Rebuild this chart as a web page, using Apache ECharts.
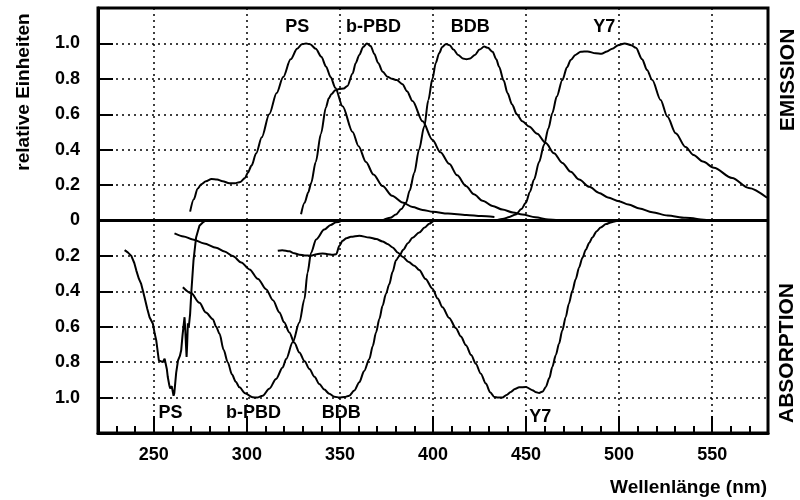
<!DOCTYPE html>
<html>
<head>
<meta charset="utf-8">
<script src="https://cdn.jsdelivr.net/npm/echarts@6/dist/echarts.min.js"></script>
<style>
  html, body { margin: 0; padding: 0; background: #fff; }
  #chart { width: 800px; height: 500px; }
</style>
</head>
<body>
<div id="chart"></div>
<script>
// Wavelength (nm) / relative intensity pairs, emission spectra
const emissionPS = [[269.5,0.05],[271.5,0.12],[273.5,0.18],[275.5,0.205],[278,0.222],[281,0.235],[284,0.232],[287,0.222],[290.6,0.21],[293.5,0.21],[296.5,0.218],[299,0.24],[300.5,0.27],[302.5,0.31],[305,0.38],[308,0.47],[312,0.6],[316,0.72],[319.5,0.81],[323.5,0.91],[327,0.97],[329.5,0.995],[331.8,1.0],[334,0.995],[337,0.97],[340,0.925],[342.5,0.87],[345,0.81],[347.5,0.75],[351.4,0.645],[356.8,0.5],[360,0.42],[364,0.33],[368,0.26],[372.9,0.195],[378,0.14],[383.6,0.102],[389,0.076],[394.4,0.06],[400,0.049],[408,0.039],[418,0.031],[426,0.025],[433,0.02]];
const emissionBPBD = [[329.1,0.035],[331,0.1],[333,0.16],[334.5,0.21],[337,0.33],[339.8,0.49],[342.5,0.64],[344,0.69],[345.5,0.715],[347.5,0.735],[349.5,0.742],[352,0.745],[354,0.76],[356.8,0.83],[358.5,0.89],[360.4,0.935],[362.5,0.98],[364.5,1.0],[366.5,0.985],[368.5,0.94],[370.5,0.89],[373,0.84],[375.5,0.812],[378,0.8],[380.5,0.793],[383.6,0.77],[386,0.73],[389,0.675],[394.4,0.56],[399.7,0.456],[404,0.385],[408.7,0.32],[413,0.255],[417.7,0.195],[422,0.148],[426.6,0.112],[432,0.082],[437.3,0.062],[443,0.045],[448,0.034],[455,0.018],[462,0.006],[468,0]];
const emissionBDB = [[372.9,0],[377,0.015],[380.1,0.034],[383,0.065],[385.5,0.1],[387.5,0.17],[389.9,0.268],[392.5,0.4],[395.3,0.531],[397.5,0.68],[399.7,0.8],[401.5,0.89],[403.3,0.945],[405,0.98],[407,0.997],[409,0.99],[411,0.965],[413.5,0.935],[416,0.915],[418,0.91],[420,0.915],[422.5,0.935],[425,0.965],[427.5,0.982],[429.5,0.975],[432,0.953],[434,0.91],[435.5,0.868],[438,0.79],[440,0.72],[442.5,0.655],[445,0.6],[448,0.56],[451.6,0.531],[456,0.49],[460.6,0.437],[465,0.38],[469.5,0.325],[474,0.275],[478.5,0.231],[484,0.19],[489.2,0.156],[494,0.13],[499.9,0.109],[505,0.09],[511,0.068],[517.8,0.047],[526,0.028],[535.7,0.015],[548,0.003],[555,0]];
const emissionY7 = [[433.8,0],[438,0.01],[441,0.02],[444.5,0.034],[447.5,0.065],[449.9,0.1],[452,0.16],[454.3,0.231],[457,0.33],[459.7,0.428],[462,0.52],[464.1,0.606],[466.5,0.7],[469.5,0.793],[472,0.865],[474,0.906],[476.5,0.935],[479.4,0.953],[483,0.955],[487.4,0.944],[490.5,0.942],[493.5,0.955],[496.3,0.97],[499.5,0.99],[503,1.0],[506.5,0.99],[509,0.975],[512.4,0.91],[515,0.85],[517.8,0.793],[522.3,0.681],[525.9,0.587],[530.4,0.493],[535.7,0.415],[540,0.37],[545,0.333],[550.9,0.298],[560.7,0.24],[569.7,0.184],[579.5,0.128]];

// Wavelength (nm) / relative absorbance pairs, drawn downward from the zero line
const absorptionPS = [[234.3,0.167],[236,0.18],[237.9,0.2],[239.5,0.24],[240.6,0.283],[242,0.33],[243.2,0.358],[244.2,0.4],[245,0.433],[246.5,0.5],[247.7,0.546],[249.5,0.583],[250.5,0.64],[251.3,0.677],[252.2,0.75],[252.7,0.79],[253.5,0.8],[254.8,0.8],[255.8,0.78],[256.3,0.771],[257,0.84],[257.5,0.884],[258.3,0.93],[258.8,0.949],[259.6,0.935],[260.2,0.94],[260.6,0.99],[261,0.975],[262,0.86],[263,0.79],[264,0.765],[264.7,0.733],[265.4,0.65],[265.9,0.602],[266.5,0.546],[266.9,0.62],[267.3,0.71],[267.6,0.77],[267.9,0.7],[268.3,0.58],[268.8,0.6],[269.5,0.527],[270.2,0.396],[271.3,0.227],[272.7,0.096],[274.5,0.03],[276.3,0.011],[278,0]];
const absorptionBPBD = [[265.6,0.377],[270,0.41],[274.5,0.465],[278,0.52],[281.7,0.557],[283.5,0.6],[285.3,0.64],[287.5,0.73],[289.7,0.8],[292,0.87],[294,0.91],[296,0.942],[299,0.975],[303.1,0.998],[305.5,1.0],[308.5,0.989],[312,0.95],[315.7,0.895],[319.2,0.83],[321.1,0.782],[324.6,0.688],[328.2,0.576],[330.9,0.445],[332.6,0.294],[334.5,0.182],[337.2,0.107],[341.6,0.051],[345,0.025],[347.9,0.01],[351.3,0]];
const absorptionBDB = [[261.1,0.073],[266,0.09],[270.9,0.107],[277,0.13],[283.5,0.154],[288,0.175],[292.4,0.201],[297,0.237],[301.4,0.276],[306,0.33],[310.3,0.388],[314,0.45],[317.5,0.519],[320,0.575],[322.8,0.632],[325.5,0.69],[328.2,0.745],[331,0.795],[333.6,0.838],[336.3,0.882],[338.9,0.923],[341.6,0.955],[344.3,0.979],[347,0.995],[349.7,1.0],[352.5,0.997],[355,0.989],[357.7,0.96],[360.4,0.913],[363,0.85],[365.8,0.782],[367.6,0.71],[369.4,0.632],[371.2,0.555],[372.9,0.482],[374.7,0.415],[376.5,0.36],[378.3,0.29],[380.1,0.225],[381.9,0.2],[384,0.165],[386.5,0.128],[389,0.098],[392.6,0.068],[395.5,0.04],[398,0.018],[400.5,0.003],[402,0]];
const absorptionY7 = [[316.6,0.171],[319,0.168],[322.8,0.174],[325.5,0.185],[328.2,0.193],[331,0.197],[334.5,0.199],[337.5,0.19],[340.7,0.186],[343.5,0.19],[346.1,0.193],[348,0.19],[349.7,0.143],[351.4,0.114],[353.5,0.1],[355.9,0.092],[360.4,0.086],[365.8,0.096],[369.5,0.105],[372.9,0.118],[375.5,0.132],[378.3,0.152],[381,0.18],[383.6,0.204],[387,0.235],[390,0.255],[392.6,0.28],[396,0.33],[399.7,0.385],[402.5,0.44],[405.1,0.49],[408.7,0.55],[412.3,0.608],[415,0.655],[417.7,0.705],[420.5,0.76],[423,0.809],[425.7,0.865],[428.4,0.921],[430.7,0.97],[432.9,0.996],[435,1.0],[437.3,1.0],[439.5,0.985],[441.8,0.968],[444,0.952],[446.3,0.942],[449.9,0.94],[453.4,0.958],[455.5,0.97],[457,0.974],[459,0.965],[460.6,0.94],[462.5,0.89],[464.1,0.827],[466,0.76],[467.7,0.696],[469.5,0.62],[471.3,0.546],[473,0.47],[474.9,0.396],[476.7,0.33],[478.5,0.265],[480.3,0.21],[482.1,0.165],[484,0.125],[485.6,0.096],[488,0.06],[490.1,0.039],[493,0.02],[495.5,0.011],[498,0.004],[500,0]];

// Tick values of the wavelength axis
const xMajorTicks = [250, 300, 350, 400, 450, 500, 550];

// Substance names placed next to their curves: [wavelength, value, name]
const curveNames = [
  [327, 1.092, 'PS'], [368, 1.092, 'b-PBD'], [420, 1.092, 'BDB'], [492, 1.092, 'Y7'],
  [259, -1.086, 'PS'], [303.6, -1.086, 'b-PBD'], [350.7, -1.086, 'BDB'], [457.6, -1.109, 'Y7']
];

const FONT = '"Liberation Sans", Arial, Helvetica, sans-serif';
const down = arr => arr.map(([x, a]) => [x, -a]);

function curve(data, smooth) {
  return {
    type: 'line',
    data: data,
    showSymbol: false,
    smooth: smooth,
    smoothMonotone: 'x',
    lineStyle: { color: '#000', width: 2 },
    silent: true
  };
}

const series = [
  curve(emissionPS, 0.3),
  curve(emissionBPBD, 0.3),
  curve(emissionBDB, 0.3),
  curve(emissionY7, 0.3),
  curve(down(absorptionPS), false),
  curve(down(absorptionBPBD), 0.3),
  curve(down(absorptionBDB), 0.3),
  curve(down(absorptionY7), 0.3),
  {
    type: 'scatter',
    data: curveNames,
    symbolSize: 0,
    itemStyle: { color: '#000', opacity: 1 },
    silent: true,
    label: {
      show: true,
      position: 'inside',
      formatter: p => p.data[2],
      color: '#000',
      opacity: 1,
      fontSize: 18,
      fontWeight: 'bold',
      fontFamily: FONT
    }
  }
];

// thick zero line separating emission and absorption
series[0].markLine = {
  silent: true,
  symbol: 'none',
  label: { show: false },
  lineStyle: { color: '#000', width: 3, type: 'solid' },
  data: [{ yAxis: 0 }]
};

const chart = echarts.init(document.getElementById('chart'), null, { renderer: 'canvas' });
chart.setOption({
  animation: false,
  backgroundColor: '#fff',
  grid: {
    left: 98, top: 8, width: 670, height: 425,
    show: true, borderColor: '#000', borderWidth: 3, backgroundColor: 'transparent'
  },
  xAxis: [
    {
      type: 'value', min: 220, max: 580, interval: 10, position: 'bottom',
      axisLine: { show: true, onZero: false, lineStyle: { color: '#000', width: 3 } },
      axisTick: { show: true, inside: true, length: 7, lineStyle: { color: '#000', width: 2 } },
      axisLabel: { show: false },
      splitLine: { show: false }
    },
    {
      type: 'value', min: 220, max: 580, position: 'bottom',
      axisLine: { show: false, onZero: false },
      axisTick: { show: true, inside: true, length: 17, customValues: xMajorTicks, lineStyle: { color: '#000', width: 2 } },
      axisLabel: { show: true, customValues: xMajorTicks, margin: 13, color: '#000', fontSize: 18, fontWeight: 'bold', fontFamily: FONT },
      splitLine: { show: true, lineStyle: { color: '#000', width: 1.5, type: [2, 4] } }
    }
  ],
  yAxis: {
    type: 'value', min: -1.2, max: 1.2, interval: 0.2,
    axisLine: { show: true, onZero: false, lineStyle: { color: '#000', width: 3 } },
    axisTick: { show: true, inside: true, length: 15, lineStyle: { color: '#000', width: 2 } },
    axisLabel: {
      margin: 18, color: '#000', fontSize: 18, fontWeight: 'bold', fontFamily: FONT,
      formatter: v => {
        const a = Math.abs(v);
        if (a > 1.1) return '';
        if (a < 1e-6) return '0';
        return a.toFixed(1);
      }
    },
    splitLine: { show: true, lineStyle: { color: '#000', width: 1.5, type: [2, 4] } }
  },
  graphic: [
    {
      type: 'text', x: 24, y: 92, rotation: Math.PI / 2,
      style: { text: 'relative Einheiten', fill: '#000', font: 'bold 19px ' + FONT, align: 'center', verticalAlign: 'middle', textAlign: 'center', textVerticalAlign: 'middle' }
    },
    {
      type: 'text', x: 788, y: 80, rotation: Math.PI / 2,
      style: { text: 'EMISSION', fill: '#000', font: 'bold 21px ' + FONT, align: 'center', verticalAlign: 'middle', textAlign: 'center', textVerticalAlign: 'middle' }
    },
    {
      type: 'text', x: 787, y: 353, rotation: Math.PI / 2,
      style: { text: 'ABSORPTION', fill: '#000', font: 'bold 21px ' + FONT, align: 'center', verticalAlign: 'middle', textAlign: 'center', textVerticalAlign: 'middle' }
    },
    {
      type: 'text', x: 767, y: 488,
      style: { text: 'Wellenlänge (nm)', fill: '#000', font: 'bold 19px ' + FONT, align: 'right', verticalAlign: 'middle', textAlign: 'right', textVerticalAlign: 'middle' }
    }
  ],
  series: series
});
</script>
</body>
</html>
